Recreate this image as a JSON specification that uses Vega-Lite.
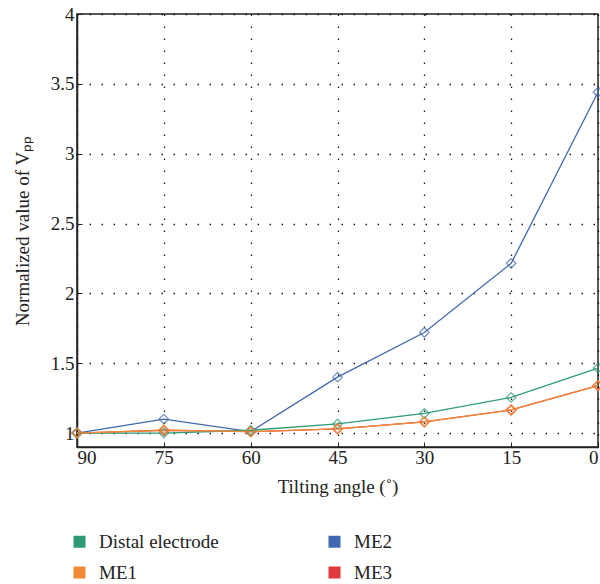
{
  "$schema": "https://vega.github.io/schema/vega-lite/v6.json",
  "width": 521,
  "height": 433,
  "autosize": {"type": "none"},
  "padding": {"left": 77, "top": 14, "right": 2, "bottom": 137},
  "background": "white",
  "config": {
    "font": "Liberation Serif",
    "view": {"stroke": "#222", "strokeWidth": 1.5},
    "axis": {
      "labelFont": "Liberation Serif", "titleFont": "Liberation Serif",
      "labelFontSize": 19, "titleFontSize": 19, "labelColor": "#222", "titleColor": "#222",
      "titleFontWeight": "normal",
      "grid": true, "gridColor": "#000", "gridDash": [1.5, 10.5], "gridWidth": 1.3, "gridOpacity": 0.9,
      "domainColor": "#222", "domainWidth": 1.5, "tickColor": "#222", "tickSize": -5
    }
  },
  "data": {"values": [
    {"angle": 90, "v": 1.0, "s": "ME3"}, {"angle": 75, "v": 1.02, "s": "ME3"}, {"angle": 60, "v": 1.01, "s": "ME3"}, {"angle": 45, "v": 1.03, "s": "ME3"}, {"angle": 30, "v": 1.08, "s": "ME3"}, {"angle": 15, "v": 1.165, "s": "ME3"}, {"angle": 0, "v": 1.34, "s": "ME3"},
    {"angle": 90, "v": 1.0, "s": "ME2"}, {"angle": 75, "v": 1.10, "s": "ME2"}, {"angle": 60, "v": 1.01, "s": "ME2"}, {"angle": 45, "v": 1.40, "s": "ME2"}, {"angle": 30, "v": 1.72, "s": "ME2"}, {"angle": 15, "v": 2.215, "s": "ME2"}, {"angle": 0, "v": 3.44, "s": "ME2"},
    {"angle": 90, "v": 1.0, "s": "Distal electrode"}, {"angle": 75, "v": 1.0, "s": "Distal electrode"}, {"angle": 60, "v": 1.02, "s": "Distal electrode"}, {"angle": 45, "v": 1.065, "s": "Distal electrode"}, {"angle": 30, "v": 1.14, "s": "Distal electrode"}, {"angle": 15, "v": 1.255, "s": "Distal electrode"}, {"angle": 0, "v": 1.465, "s": "Distal electrode"},
    {"angle": 90, "v": 1.0, "s": "ME1"}, {"angle": 75, "v": 1.02, "s": "ME1"}, {"angle": 60, "v": 1.01, "s": "ME1"}, {"angle": 45, "v": 1.03, "s": "ME1"}, {"angle": 30, "v": 1.08, "s": "ME1"}, {"angle": 15, "v": 1.165, "s": "ME1"}, {"angle": 0, "v": 1.34, "s": "ME1"}
  ]},
  "encoding": {
    "x": {"field": "angle", "type": "quantitative",
      "scale": {"domain": [90, 0], "nice": false, "zero": false},
      "axis": {"values": [90, 75, 60, 45, 30, 15, 0], "title": "Tilting angle (˚)", "labelPadding": 6, "titlePadding": 10}},
    "y": {"field": "v", "type": "quantitative",
      "scale": {"domain": [0.9, 4], "nice": false, "zero": false},
      "axis": {"values": [1, 1.5, 2, 2.5, 3, 3.5, 4], "format": "~g", "title": "Normalized value of Vₚₚ", "labelPadding": 8, "titlePadding": 18}},
    "color": {"field": "s", "type": "nominal",
      "scale": {"domain": ["Distal electrode", "ME2", "ME1", "ME3"], "range": ["#2E9A78", "#4068AE", "#F28A35", "#E0393E"]},
      "legend": {"orient": "none", "legendX": -7, "legendY": 518, "columns": 2, "direction": "horizontal",
        "title": null, "symbolType": "square", "symbolSize": 36, "symbolStrokeWidth": 6, "symbolOpacity": 1,
        "labelFont": "Liberation Serif", "labelFontSize": 19, "labelColor": "#222", "columnPadding": 100, "rowPadding": 0, "labelLimit": 200, "labelOffset": 10}},
    "order": {"field": "angle"}
  },
  "layer": [
    {"mark": {"type": "line", "strokeWidth": 1.3}, "encoding": {"strokeWidth": {"condition": {"test": "datum.s === 'ME1'", "value": 2.2}, "value": 1.3}}},
    {"mark": {"type": "point", "shape": "diamond", "filled": false, "size": 90, "strokeWidth": 1.3},
     "encoding": {"strokeWidth": {"condition": {"test": "datum.s === 'ME1'", "value": 2}, "value": 1.3}}}
  ]
}
